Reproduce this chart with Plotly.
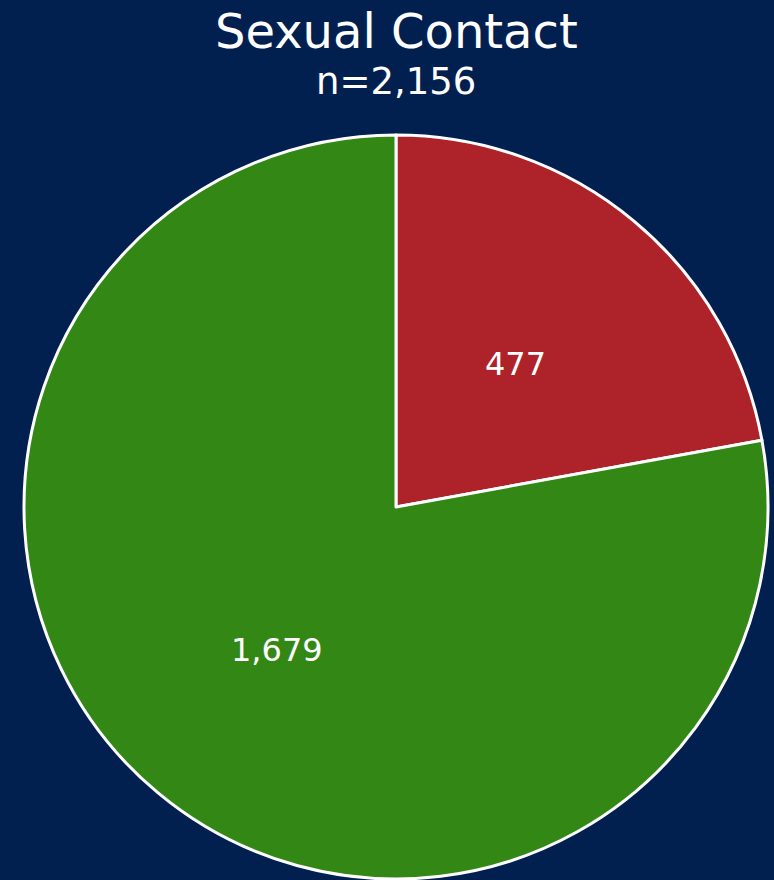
import math
import plotly.graph_objects as go

labels = ["Yes", "No"]
values = [477, 1679]
colors = ["#AE2329", "#338815"]
title = "Sexual Contact"
subtitle = "n=2,156"

W, H = 774, 880
# pie domain in pixels
x0, x1, ytop, ybot = 24, 768, 135, 879
cx, cy = (x0 + x1) / 2, (ytop + ybot) / 2
R = (x1 - x0) / 2

fig = go.Figure(go.Pie(
    labels=labels, values=values, sort=False, direction="clockwise", rotation=0,
    marker=dict(colors=colors, line=dict(color="white", width=3)),
    textinfo="none",
    domain=dict(x=[x0/W, x1/W], y=[1-ybot/H, 1-ytop/H]),
    showlegend=False, hoverinfo="label+value",
))

# value labels placed at mid-angle of each slice, half radius
total = sum(values)
annotations = []
cum = 0
for v in values:
    mid = (cum + v / 2) / total * 2 * math.pi
    cum += v
    px = cx + 0.5 * R * math.sin(mid)
    py = cy - 0.5 * R * math.cos(mid)
    annotations.append(dict(text=f"{v:,}", x=px / W, y=1 - py / H, xref="paper", yref="paper",
                            showarrow=False, xanchor="center", yanchor="middle",
                            font=dict(family="DejaVu Sans", size=32, color="white")))

annotations += [
    dict(text=title, x=cx/W, y=1-31/H, xref="paper", yref="paper", showarrow=False,
         font=dict(family="DejaVu Sans", size=48, color="white"), xanchor="center", yanchor="middle"),
    dict(text=subtitle, x=cx/W, y=1-82/H, xref="paper", yref="paper", showarrow=False,
         font=dict(family="DejaVu Sans", size=37, color="white"), xanchor="center", yanchor="middle"),
]

fig.update_layout(
    width=W, height=H, margin=dict(l=0, r=0, t=0, b=0),
    paper_bgcolor="#012050", plot_bgcolor="#012050",
    annotations=annotations,
)
fig.write_html("out.html", config={"displayModeBar": False},
               post_script="document.body.style.margin='0';document.body.style.padding='0';document.body.style.background='#012050';")
